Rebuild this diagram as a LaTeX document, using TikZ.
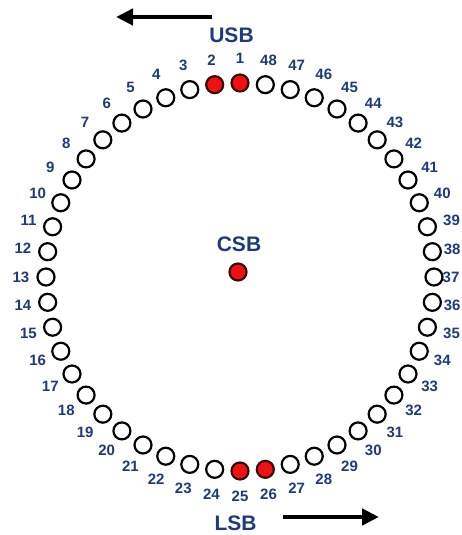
\documentclass[tikz,border=0pt]{standalone}
\usepackage{fontspec}
\setmainfont{Liberation Sans}
\usetikzlibrary{arrows.meta}
\definecolor{lbl}{HTML}{1F3A7A}
\definecolor{dotred}{HTML}{F01212}
\definecolor{dotrim}{HTML}{3A0A0A}
\begin{document}
\begin{tikzpicture}[x=1pt,y=1pt,
  ring/.style={circle,draw=black,line width=2.2pt,fill=white,minimum size=17pt,inner sep=0pt},
  hot/.style={ring,fill=dotred,draw=dotrim},
  num/.style={text=lbl,font=\fontsize{15}{15}\selectfont\bfseries,inner sep=0pt},
  big/.style={text=lbl,font=\fontsize{21}{21}\selectfont\bfseries,inner sep=0pt},
  dirarrow/.style={line width=4.5pt,-{Triangle[length=17pt,width=16pt]}}]
\useasboundingbox (0,0) rectangle (461,535);
\coordinate (C) at (240,258);
\foreach \k in {1,...,48}{
  \pgfmathsetmacro\a{90+(\k-1)*7.5}
  \pgfmathtruncatemacro\r{(\k==1)||(\k==2)||(\k==25)||(\k==26)}
  \pgfmathsetmacro\lr{(\k==37) ? 211 : (((\k>=36)&&(\k<=38)) ? 214 : 219)}
  \ifnum\r=1
    \node[hot] (c\k) at ([shift={(\a:194)}]C) {};
  \else
    \node[ring] (c\k) at ([shift={(\a:194)}]C) {};
  \fi
  \node[num] (l\k) at ([shift={(\a:\lr)}]C) {\k};
}
\node[hot] (csbdot) at (238,263) {};
\node[big] (csb) at (239,291) {CSB};
\node[big] (usb) at (231.5,500) {USB};
\node[big] (lsb) at (235.5,12) {LSB};
\coordinate (ua) at (212,518);
\coordinate (ub) at (116,518);
\coordinate (la) at (283,18);
\coordinate (lb) at (379,18);
\draw[dirarrow] (ua) -- (ub);
\draw[dirarrow] (la) -- (lb);
\end{tikzpicture}
\end{document}
